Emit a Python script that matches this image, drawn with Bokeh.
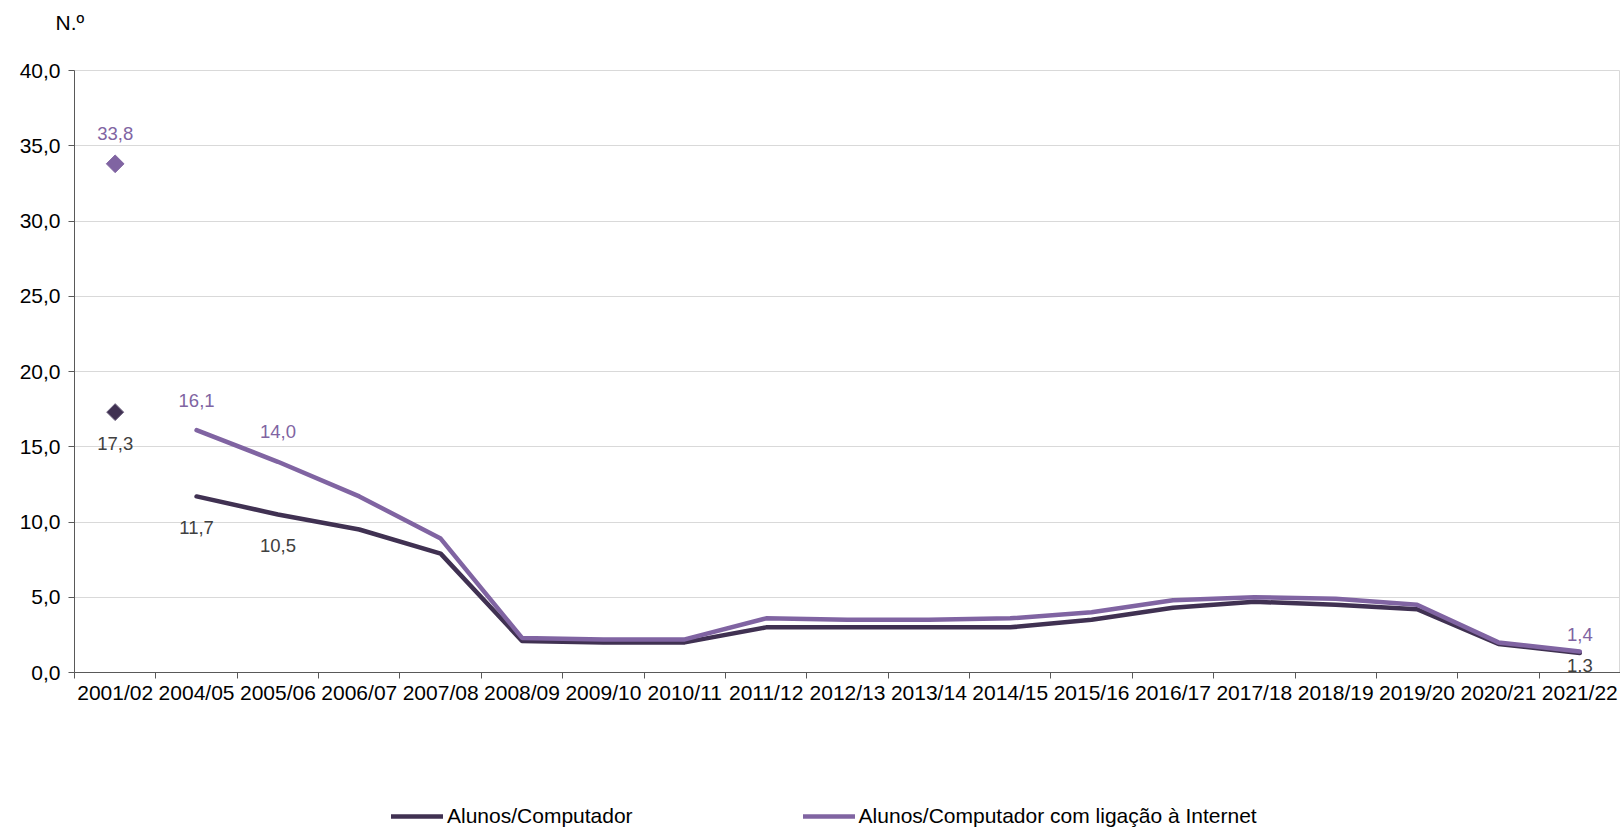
import numpy as np
from bokeh.plotting import figure
from bokeh.layouts import column
from bokeh.models import (FactorRange, Range1d, FixedTicker, LinearAxis, CategoricalAxis,
                          Legend, LegendItem, ColumnDataSource)
from bokeh.core.properties import value
from bokeh.embed import file_html
from bokeh.resources import INLINE

# ---------------- data ----------------
categories = ["2001/02", "2004/05", "2005/06", "2006/07", "2007/08", "2008/09", "2009/10",
              "2010/11", "2011/12", "2012/13", "2013/14", "2014/15", "2015/16", "2016/17",
              "2017/18", "2018/19", "2019/20", "2020/21", "2021/22"]
alunos_computador = [17.3, 11.7, 10.5, 9.5, 7.9, 2.1, 2.0, 2.0, 3.0, 3.0, 3.0, 3.0, 3.5,
                     4.3, 4.7, 4.5, 4.2, 1.9, 1.3]
alunos_internet = [33.8, 16.1, 14.0, 11.7, 8.9, 2.3, 2.2, 2.2, 3.6, 3.5, 3.5, 3.6, 4.0,
                   4.8, 5.0, 4.9, 4.5, 2.0, 1.4]
series_names = ["Alunos/Computador", "Alunos/Computador com ligação à Internet"]
y_ticks = [0, 5, 10, 15, 20, 25, 30, 35, 40]
y_tick_labels = ["0,0", "5,0", "10,0", "15,0", "20,0", "25,0", "30,0", "35,0", "40,0"]
y_unit = "N.º"
labelled_first = ["2001/02", "2004/05", "2005/06"]
labelled_last = ["2021/22"]

# ---------------- style ----------------
FONT = "Liberation Sans"
DARK = "#403152"
PURPLE = "#8064A2"
AXIS = "#595959"
GRID = "#D9D9D9"
W = 1620
LW = 4.5


def fmt(v):
    return f"{v:.1f}".replace(".", ",")


def blank_fig(h, top=0, title=None):
    f = figure(width=W, height=h, x_range=Range1d(0, 1), y_range=Range1d(0, 1),
               output_backend="svg", toolbar_location=None,
               x_axis_location=None, y_axis_location=None, title=title,
               min_border_left=0, min_border_right=0, min_border_top=top, min_border_bottom=0)
    f.grid.visible = False
    f.outline_line_color = None
    f.background_fill_color = "white"
    f.border_fill_color = "white"
    return f


# ---------------- header with unit (as a title, left of the aligned frame) ----------------
head = blank_fig(45, top=33, title=y_unit)
head.title.align = "left"
head.title.offset = -19
head.title.standoff = 0
head.title.text_font = FONT
head.title.text_font_size = "21px"
head.title.text_font_style = "normal"
head.title.text_color = "black"

# ---------------- main chart ----------------
p = figure(width=W, height=695,
           x_range=FactorRange(factors=categories, range_padding=0),
           y_range=Range1d(0, 40),
           output_backend="svg", toolbar_location=None, x_axis_location=None,
           min_border_left=74, min_border_right=0, min_border_top=25, min_border_bottom=68)
p.background_fill_color = "white"
p.border_fill_color = "white"
p.outline_line_color = GRID

# y axis
p.yaxis.ticker = FixedTicker(ticks=y_ticks)
p.yaxis.major_label_overrides = {t: l for t, l in zip(y_ticks, y_tick_labels)}
p.yaxis.minor_tick_line_color = None
p.yaxis.major_tick_in = 0
p.yaxis.major_tick_out = 6
p.yaxis.axis_line_color = AXIS
p.yaxis.major_tick_line_color = AXIS
p.yaxis.major_label_standoff = 8
p.yaxis.major_label_text_font = FONT
p.yaxis.major_label_text_font_size = "21px"
p.yaxis.major_label_text_color = "black"
for g in p.grid:
    if g.dimension == 0:
        g.visible = False
    else:
        g.grid_line_color = GRID

# x axis: ticks at category boundaries, labels at category centres
boundaries = list(range(len(categories) + 1))
tick_axis = LinearAxis(ticker=FixedTicker(ticks=boundaries),
                       major_label_overrides={b: "" for b in boundaries},
                       major_label_text_font_size="1px", major_label_standoff=0,
                       major_tick_in=0, major_tick_out=6, minor_tick_line_color=None,
                       axis_line_color=AXIS, major_tick_line_color=AXIS)
p.add_layout(tick_axis, "below")
label_axis = CategoricalAxis(major_tick_line_color=None, axis_line_color=None,
                             major_tick_out=0, major_tick_in=0,
                             major_label_standoff=2,
                             major_label_text_font=FONT,
                             major_label_text_font_size="21px",
                             major_label_text_color="black")
p.add_layout(label_axis, "below")

# lines (series start in 2004/05; 2001/02 shown as isolated marker)
src_dark = ColumnDataSource(dict(x=categories[1:], y=alunos_computador[1:]))
src_purple = ColumnDataSource(dict(x=categories[1:], y=alunos_internet[1:]))
p.line("x", "y", source=src_dark, line_color=DARK, line_width=LW,
       line_cap="round", line_join="round")
p.line("x", "y", source=src_purple, line_color=PURPLE, line_width=LW,
       line_cap="round", line_join="round")

p.scatter(x=[categories[0]], y=[alunos_computador[0]], marker="square", size=12,
          angle=np.pi / 4, fill_color=DARK, line_color="#6E6380", line_width=1)
p.scatter(x=[categories[0]], y=[alunos_internet[0]], marker="square", size=12.5,
          angle=np.pi / 4, fill_color=PURPLE, line_color=PURPLE)


# data labels
def label_src(cats, vals):
    idx = [categories.index(c) for c in cats]
    return ColumnDataSource(dict(x=[categories[i] for i in idx],
                                 y=[vals[i] for i in idx],
                                 t=[fmt(vals[i]) for i in idx]))


for cats, off_p, off_d in [(labelled_first, -30, 31), (labelled_last, -17, 13)]:
    p.text("x", "y", text="t", source=label_src(cats, alunos_internet), y_offset=off_p,
           text_align="center", text_baseline="middle", text_font=value(FONT),
           text_font_size=value("18.5px"), text_color=PURPLE)
    p.text("x", "y", text="t", source=label_src(cats, alunos_computador), y_offset=off_d,
           text_align="center", text_baseline="middle", text_font=value(FONT),
           text_font_size=value("18.5px"), text_color="#404040")

# ---------------- legend strip ----------------
leg = blank_fig(89)
# legend-only renderers (no visible data)
l_dark = leg.line(x=[np.nan], y=[np.nan], line_color=DARK, line_width=LW, line_cap="round")
l_purple = leg.line(x=[np.nan], y=[np.nan], line_color=PURPLE, line_width=LW, line_cap="round")
legend = Legend(items=[LegendItem(label=series_names[0], renderers=[l_dark]),
                       LegendItem(label=series_names[1], renderers=[l_purple])],
                orientation="horizontal", location=(317, 1), margin=0, padding=0,
                spacing=170, glyph_width=52, label_standoff=4,
                label_text_font=FONT, label_text_font_size="21px", label_text_color="black",
                border_line_color=None, background_fill_alpha=0)
leg.add_layout(legend, "center")

layout = column(head, p, leg, spacing=0)
open("out.html", "w").write(file_html(layout, INLINE))
